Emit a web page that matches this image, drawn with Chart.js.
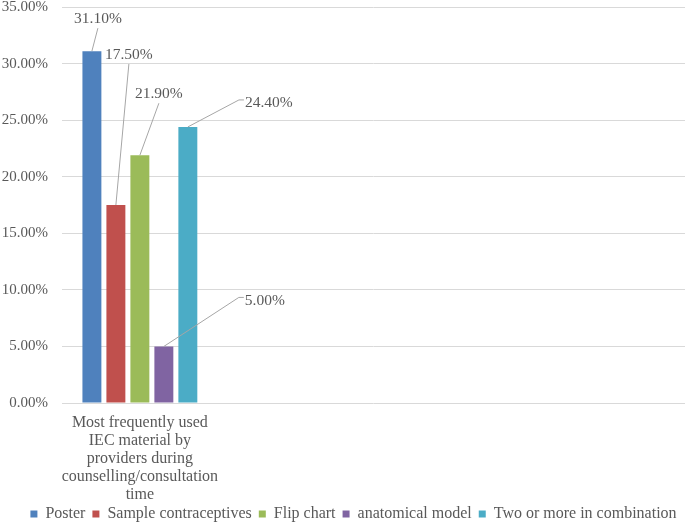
<!DOCTYPE html>
<html>
<head>
<meta charset="utf-8">
<script src="https://cdn.jsdelivr.net/npm/chart.js@4"></script>
<style>
  html, body { margin: 0; padding: 0; background: #fff; }
  #wrap { width: 685px; height: 522px; }
</style>
</head>
<body>
<div id="wrap"><canvas id="chart"></canvas></div>
<script>
// Category labels (only the first slot is used, the rest are empty like the original sheet)
const categories = [
  ['Most frequently used', 'IEC material by', 'providers during', 'counselling/consultation', 'time'],
  '', '', ''
];

// Series names and values (percent)
const seriesNames = ['Poster', 'Sample contraceptives', 'Flip chart', 'anatomical model', 'Two or more in combination'];
const poster = [31.1, null, null, null];
const sampleContraceptives = [17.5, null, null, null];
const flipChart = [21.9, null, null, null];
const anatomicalModel = [5.0, null, null, null];
const twoOrMore = [24.4, null, null, null];
const seriesValues = [poster, sampleContraceptives, flipChart, anatomicalModel, twoOrMore];

const colors = ['#4f81bd', '#c0504d', '#9bbb59', '#8064a2', '#4bacc6'];

// Where each data label sits relative to the top of its bar, and how the leader joins it
const labelOffsets = [
  { dx: 6, dy: -33, leader: 'bottom' },
  { dx: 13, dy: -151, leader: 'bottom' },
  { dx: 19, dy: -62, leader: 'bottom' },
  { dx: 101, dy: -47, leader: 'left' },
  { dx: 81, dy: -25, leader: 'left' }
];

const FAMILY = '"Liberation Serif", "Times New Roman", serif';
const TEXT_COLOR = '#595959';

// Draw data labels with grey leader lines
const leaderLabels = {
  id: 'leaderLabels',
  afterDatasetsDraw(chart) {
    const ctx = chart.ctx;
    ctx.save();
    ctx.font = `15.5px ${FAMILY}`;
    ctx.textAlign = 'center';
    ctx.textBaseline = 'middle';
    chart.data.datasets.forEach((ds, i) => {
      const bar = chart.getDatasetMeta(i).data[0];
      if (!bar) return;
      const off = labelOffsets[i];
      const text = ds.data[0].toFixed(2) + '%';
      const cx = bar.x + off.dx;
      const cy = bar.y + off.dy;
      const w = ctx.measureText(text).width;

      ctx.strokeStyle = '#a6a6a6';
      ctx.lineWidth = 1;
      ctx.beginPath();
      if (off.leader === 'left') {
        const left = cx - w / 2;
        ctx.moveTo(bar.x, bar.y);
        ctx.lineTo(left - 6, cy - 2);
        ctx.lineTo(left - 1, cy - 2);
      } else {
        ctx.moveTo(bar.x, bar.y);
        ctx.lineTo(cx, cy + 10);
      }
      ctx.stroke();

      ctx.fillStyle = TEXT_COLOR;
      ctx.fillText(text, cx, cy + 1);
    });
    ctx.restore();
  }
};

// Nudge the legend a little, the way the original sits
const legendNudge = {
  id: 'legendNudge',
  afterLayout(chart) {
    const lg = chart.legend;
    if (!lg) return;
    lg.left += 10; lg.right += 10;
    lg.top -= 4; lg.bottom -= 4;
  }
};

const datasets = seriesNames.map((name, i) => ({
  label: name,
  data: seriesValues[i],
  backgroundColor: colors[i],
  borderWidth: 0,
  barPercentage: 0.79,
  categoryPercentage: 0.77
}));

new Chart(document.getElementById('chart').getContext('2d'), {
  type: 'bar',
  data: { labels: categories, datasets: datasets },
  plugins: [leaderLabels, legendNudge],
  options: {
    responsive: true,
    maintainAspectRatio: false,
    animation: false,
    layout: { padding: { left: 2, right: 0, top: 0, bottom: -14 } },
    plugins: {
      tooltip: { enabled: false },
      legend: {
        display: true,
        position: 'bottom',
        labels: {
          color: TEXT_COLOR,
          font: { family: FAMILY, size: 16 },
          boxWidth: 7,
          boxHeight: 7,
          padding: 7
        }
      }
    },
    scales: {
      x: {
        grid: { display: false, drawTicks: false },
        border: { display: false },
        ticks: {
          color: TEXT_COLOR,
          font: { family: FAMILY, size: 16, lineHeight: 1.125 },
          padding: 11,
          maxRotation: 0,
          autoSkip: false
        },
        afterFit(scale) {
          scale.height = 100;
          scale.paddingLeft = 0;
          scale.paddingRight = 0;
        }
      },
      y: {
        min: 0,
        max: 35,
        grid: { color: '#d9d9d9', drawTicks: false },
        border: { display: false },
        ticks: {
          stepSize: 5,
          padding: 14,
          color: TEXT_COLOR,
          font: { family: FAMILY, size: 15 },
          callback: v => v.toFixed(2) + '%'
        },
        afterFit(scale) {
          scale.width = 60;
          scale.paddingTop = 7;
          scale.paddingBottom = 0;
        }
      }
    }
  }
});
</script>
</body>
</html>
